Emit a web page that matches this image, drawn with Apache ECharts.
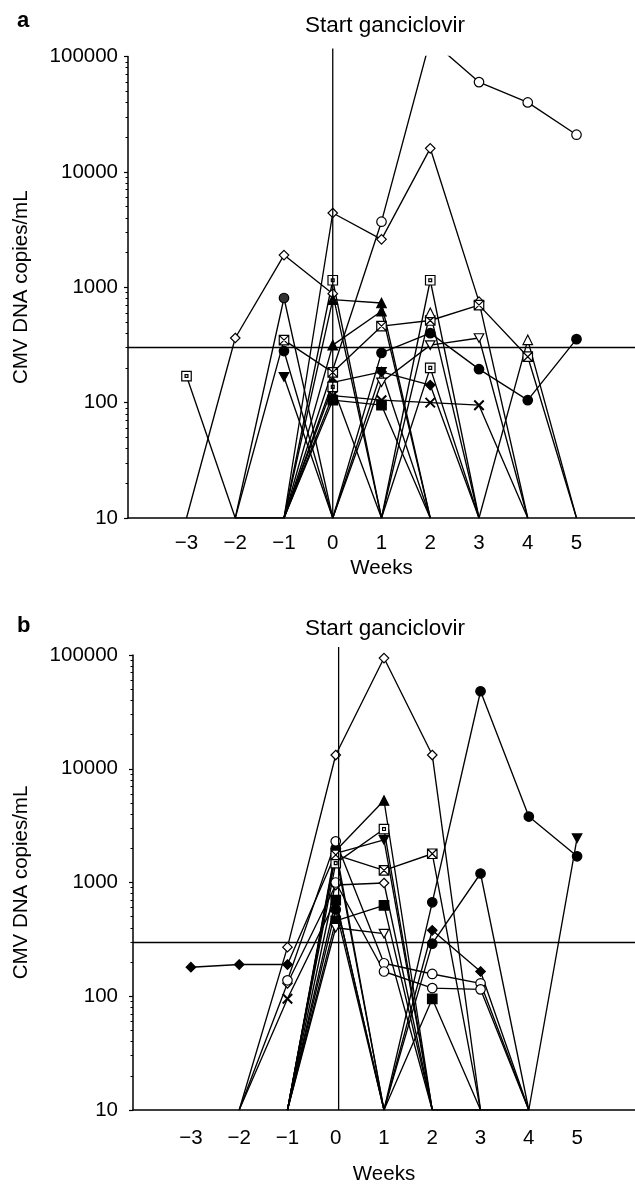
<!DOCTYPE html>
<html>
<head>
<meta charset="utf-8">
<script src="https://cdn.jsdelivr.net/npm/echarts@6/dist/echarts.min.js"></script>
<style>
html,body{margin:0;padding:0;background:#fff;}
#c{width:635px;height:1186px;}
</style>
</head>
<body>
<div id="c"></div>
<script>
// Weeks relative to start of ganciclovir
const weeks = [-3, -2, -1, 0, 1, 2, 3, 4, 5];
const yTicks = [10, 100, 1000, 10000, 100000];
const minorMultipliers = [2, 3, 4, 5, 6, 7, 8, 9];
const cutoff = 300;
const startWeek = [0, 0.06];   // "Start ganciclovir" line position per panel

// Panel a: CMV DNA copies/mL per patient (null = no sample)
const a_openCircle   = [null, null, 10, null, 3700, 140000, 60000, 40000, 21000];
const a_openDiamond1 = [10, 363, 1900, 880, 10, null, null, null, null];
const a_openDiamond2 = [null, null, 10, 4400, 2600, 16000, 750, 10, null];
const a_openSquare1  = [170, 10, 10, 1150, 10, 1150, 10, null, null];
const a_halfCircle   = [null, 10, 807, 10, null, null, null, null, null];
const a_crossSquare  = [null, 10, 348, 183, 460, 515, 700, 250, 10];
const a_fillCircle   = [null, null, 280, 10, 270, 400, 195, 105, 355];
const a_fillDownTri  = [null, null, 167, 10, 185, 10, null, null, null];
const a_fillTri      = [null, null, 10, 780, 730, 10, null, null, null];
const a_openTri      = [null, null, null, null, 10, 600, 10, 350, 10];
const a_openDownTri  = [null, null, null, 10, 150, 315, 363, 10, null];
const a_cross        = [null, null, 10, 115, 105, 100, 95, 10, null];
const a_fillSquare   = [null, null, 10, 105, 95, 10, null, null, null];
const a_fillDiamond  = [null, null, 10, 150, 185, 142, 10, null, null];
const a_openSquare2  = [null, null, 10, 137, 10, 200, 10, null, null];
const a_fillTri2     = [null, null, 10, 315, 620, 10, null, null, null];

// Panel b
const b_openDiamond  = [null, 10, 270, 13200, 94000, 13200, 10, null, null];
const b_fillDiamond  = [180, 190, 190, 1800, 10, null, null, null, null];
const b_fillCircle1  = [null, null, 10, 2000, 10, 670, 48000, 3800, 1700];
const b_fillCircle2  = [null, null, 10, 580, 10, 290, 1200, 10, null];
const b_fillDownTri  = [null, null, 10, 1800, 2370, 10, null, 10, 2450];
const b_fillTri      = [null, null, 10, 1900, 5260, 10, null, null, null];
const b_openSquare   = [null, null, 10, 1480, 2950, 10, null, null, null];
const b_crossSquare  = [null, null, 10, 1750, 1280, 1790, 10, null, null];
const b_openDiamond2 = [null, 10, 130, 950, 990, 10, null, null, null];
const b_fillSquare1  = [null, null, 10, 460, 630, 10, null, null, null];
const b_fillSquare2  = [null, null, 10, 700, 10, 95, 10, null, null];
const b_openDownTri  = [null, null, 10, 400, 355, 10, null, null, null];
const b_fillDiamond2 = [null, null, null, null, 10, 380, 165, 10, null];
const b_openCircle1  = [null, null, 138, 2300, 195, 157, 130, 10, null];
const b_openCircle2  = [null, null, 10, 1000, 165, 118, 115, 10, null];
const b_cross        = [null, 10, 95, 700, 10, null, null, null, null];

const SYM = {
  openCircle: {symbol: 'circle', fill: '#fff'},
  fillCircle: {symbol: 'circle', fill: '#000'},
  halfCircle: {symbol: 'circle', fill: '#333'},
  openDiamond: {symbol: 'diamond', fill: '#fff'},
  fillDiamond: {symbol: 'diamond', fill: '#000'},
  openSquare: {symbol: 'path://M0 0L10 0L10 10L0 10Z M3.5 3.5L6.5 3.5L6.5 6.5L3.5 6.5Z', fill: '#fff'},
  crossSquare: {symbol: 'path://M0 0L10 0L10 10L0 10Z M0 0L10 10 M10 0L0 10', fill: '#fff'},
  fillSquare: {symbol: 'rect', fill: '#000'},
  fillTri: {symbol: 'triangle', fill: '#000'},
  openTri: {symbol: 'triangle', fill: '#fff'},
  fillDownTri: {symbol: 'path://M0 0L10 0L5 9Z', fill: '#000'},
  openDownTri: {symbol: 'path://M0 0L10 0L5 9Z', fill: '#fff'},
  cross: {symbol: 'path://M0 0L10 10 M10 0L0 10', fill: 'none', bw: 2}
};

function mk(values, kind, gi) {
  const s = SYM[kind];
  return {
    type: 'line',
    xAxisIndex: gi, yAxisIndex: gi,
    data: weeks.map((w, i) => [w, values[i]]),
    connectNulls: true,
    symbol: s.symbol,
    symbolKeepAspect: true,
    showAllSymbol: true,
    lineStyle: {color: '#000', width: 1.35},
    itemStyle: {color: s.fill, borderColor: '#000', borderWidth: s.bw || 1.2},
    emphasis: {disabled: true},
    clip: true,
    z: 3,
    // undetectable (baseline) samples carry no marker
    symbolSize: function (v) { return v[1] <= 10 ? 0 : 9.5; }
  };
}

const panelA = [
  [a_openCircle, 'openCircle'], [a_openDiamond1, 'openDiamond'], [a_openDiamond2, 'openDiamond'],
  [a_openSquare1, 'openSquare'], [a_halfCircle, 'halfCircle'], [a_crossSquare, 'crossSquare'],
  [a_fillCircle, 'fillCircle'], [a_fillDownTri, 'fillDownTri'], [a_fillTri, 'fillTri'],
  [a_openTri, 'openTri'], [a_openDownTri, 'openDownTri'], [a_cross, 'cross'],
  [a_fillSquare, 'fillSquare'], [a_fillDiamond, 'fillDiamond'], [a_openSquare2, 'openSquare'],
  [a_fillTri2, 'fillTri']
];
const panelB = [
  [b_openDiamond, 'openDiamond'], [b_fillDiamond, 'fillDiamond'], [b_fillCircle1, 'fillCircle'],
  [b_fillCircle2, 'fillCircle'], [b_fillDownTri, 'fillDownTri'], [b_fillTri, 'fillTri'],
  [b_openSquare, 'openSquare'], [b_crossSquare, 'crossSquare'], [b_openDiamond2, 'openDiamond'],
  [b_fillSquare1, 'fillSquare'], [b_fillSquare2, 'fillSquare'], [b_openDownTri, 'openDownTri'],
  [b_fillDiamond2, 'fillDiamond'], [b_openCircle1, 'openCircle'], [b_openCircle2, 'openCircle'],
  [b_cross, 'cross']
];

// logarithmic minor tick values (2..9 per decade)
const minorTickValues = [];
yTicks.slice(0, -1).forEach(t => minorMultipliers.forEach(m => minorTickValues.push(t * m)));

const FONT = '"Liberation Sans", Arial, sans-serif';
const txt = {color: '#000', fontFamily: FONT, fontSize: 20.5};

function xAxisCfg(gi) {
  return {
    type: 'value', gridIndex: gi, min: -4.2, max: 6.2,
    name: 'Weeks', nameLocation: 'middle', nameGap: gi === 0 ? 40 : 54,
    nameTextStyle: Object.assign({}, txt),
    axisLine: {onZero: false, lineStyle: {color: '#000', width: 1.5}},
    axisTick: {show: false},
    splitLine: {show: false},
    axisLabel: Object.assign({}, txt, {
      customValues: weeks, margin: gi === 0 ? 15 : 18,
      formatter: v => v < 0 ? '\u2212' + Math.abs(v) : String(v)
    })
  };
}
function yAxisCfg(gi) {
  return {
    type: 'log', logBase: 10, gridIndex: gi, min: yTicks[0], max: yTicks[yTicks.length - 1],
    position: 'left',
    name: 'CMV DNA copies/mL', nameLocation: 'middle', nameGap: gi === 0 ? 96 : 101,
    nameTextStyle: Object.assign({}, txt),
    axisLine: {show: true, onZero: false, lineStyle: {color: '#000', width: 1.5}},
    axisTick: {show: true, length: 4, lineStyle: {color: '#000', width: 1.2}},
    minorTick: {show: false},
    splitLine: {show: false},
    axisLabel: Object.assign({}, txt, {margin: gi === 0 ? 10 : 15, formatter: v => String(Math.round(v))})
  };
}
function yMinorCfg(gi) {
  return {
    type: 'log', logBase: 10, gridIndex: gi, min: yTicks[0], max: yTicks[yTicks.length - 1],
    position: 'left', offset: 0,
    axisLine: {show: false, onZero: false},
    axisTick: {show: true, length: 2.5, customValues: minorTickValues, lineStyle: {color: '#000', width: 1}},
    axisLabel: {show: false},
    splitLine: {show: false}
  };
}

const series = [];
panelA.forEach(([v, k]) => series.push(mk(v, k, 0)));
panelB.forEach(([v, k]) => series.push(mk(v, k, 1)));
// cut-off level line
[0, 1].forEach(gi => {
  series.push({
    type: 'line', xAxisIndex: gi, yAxisIndex: gi, data: [], silent: true,
    markLine: {
      silent: true, symbol: 'none', label: {show: false},
      lineStyle: {color: '#000', type: 'solid', width: 1.4},
      data: [{yAxis: cutoff}]
    }
  });
});

const chart = echarts.init(document.getElementById('c'), null, {renderer: 'canvas'});
chart.setOption({
  animation: false,
  backgroundColor: '#fff',
  title: [
    {text: 'a', left: 12, top: 5, textStyle: {fontFamily: FONT, fontSize: 22, fontWeight: 'bold', color: '#000'}},
    {text: 'Start ganciclovir', left: 380, top: 9, textAlign: 'center', textStyle: {fontFamily: FONT, fontSize: 22.5, fontWeight: 'normal', color: '#000'}},
    {text: 'b', left: 12, top: 610, textStyle: {fontFamily: FONT, fontSize: 22, fontWeight: 'bold', color: '#000'}},
    {text: 'Start ganciclovir', left: 380, top: 612, textAlign: 'center', textStyle: {fontFamily: FONT, fontSize: 22.5, fontWeight: 'normal', color: '#000'}}
  ],
  grid: [
    {left: 128, right: 0, top: 56.5, height: 461.5},
    {left: 133, right: 0, top: 655, height: 459}
  ],
  xAxis: [xAxisCfg(0), xAxisCfg(1)],
  yAxis: [yAxisCfg(0), yAxisCfg(1), yMinorCfg(0), yMinorCfg(1)],
  series: series
});

// "Start ganciclovir" vertical line, placed through the axes' own scales,
// running a little above the plot top as in the original figure.
const lines = [0, 1].map(gi => {
  const top = chart.convertToPixel({xAxisIndex: gi, yAxisIndex: gi}, [startWeek[gi], yTicks[yTicks.length - 1]]);
  const bot = chart.convertToPixel({xAxisIndex: gi, yAxisIndex: gi}, [startWeek[gi], yTicks[0]]);
  return {
    type: 'line', silent: true, z: 10,
    shape: {x1: top[0], y1: top[1] - 8, x2: bot[0], y2: bot[1]},
    style: {stroke: '#000', lineWidth: 1.3}
  };
});
chart.setOption({graphic: lines});
</script>
</body>
</html>
